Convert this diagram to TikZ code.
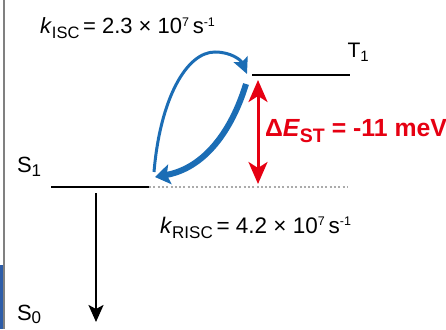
\documentclass[tikz,border=0pt]{standalone}
\usepackage{fontspec}
\setmainfont{Liberation Sans}
\usetikzlibrary{arrows.meta}
\definecolor{rxred}{HTML}{E60012}
\definecolor{rxblue}{HTML}{1B6DB5}
\definecolor{rxgray}{HTML}{ABABAB}
\definecolor{edgeblue}{HTML}{2E5DA8}
\newcommand{\fs}[1]{\fontsize{#1}{#1}\selectfont}
\newcommand{\lowsub}[3]{\raisebox{-#1pt}{\fs{#2}#3}}
\newcommand{\upsup}[3]{\raisebox{#1pt}{\fs{#2}#3}}
\begin{document}
\begin{tikzpicture}[x=1pt,y=-1pt,
  lbl/.style={anchor=base west,inner sep=0pt,outer sep=0pt},
  level/.style={line width=1.8pt,black},
  gaplevel/.style={line width=2pt,rxgray,dash pattern=on 2pt off 2.3pt},
  decay/.style={line width=2.4pt,black,-{Stealth[length=17pt,width=15pt,inset=4pt]}},
  gaparrow/.style={line width=3pt,rxred,{Stealth[length=22pt,width=19pt,inset=6pt]}-{Stealth[length=22pt,width=19pt,inset=6pt]}},
  iscarrow/.style={line width=3pt,rxblue,-{Stealth[length=16pt,width=15pt,inset=3pt]}},
  riscarrow/.style={line width=6pt,rxblue,-{Stealth[length=15pt,width=20pt,inset=3pt]}}
]
\useasboundingbox (0,0) rectangle (446,329);
\fill[white] (0,0) rectangle (446,329);
% edge artefacts
\fill[edgeblue] (0,265) rectangle (4,329);
\draw[line width=1.4pt,gray] (4,0) -- (4,329);

% coordinates
\coordinate (s1a) at (51,187);
\coordinate (s1b) at (149,187);
\coordinate (s1c) at (348,187);
\coordinate (t1a) at (252,75);
\coordinate (t1b) at (350,75);
\coordinate (dtop) at (96,193);
\coordinate (dbot) at (96,322);
\coordinate (gtop) at (258,80);
\coordinate (gbot) at (258,184);
\coordinate (iscs) at (154,172);
\coordinate (iscm) at (215,52);
\coordinate (isce) at (247,74);
\coordinate (riscs) at (246,84);
\coordinate (risce) at (155,177);

% levels
\draw[level] (s1a) -- (s1b);
\draw[gaplevel] (s1b) -- (s1c);
\draw[level] (t1a) -- (t1b);

% arrows
\draw[decay] (dtop) -- (dbot);
\draw[gaparrow] (gtop) -- (gbot);
\draw[iscarrow] (iscs) .. controls (160,100) and (186,52) .. (iscm) .. controls (231,52) and (241,60) .. (isce);
\draw[riscarrow] (riscs) .. controls (232,130) and (205,168) .. (risce);

% labels
\node[lbl] (s1lab) at (17,172) {\fs{22}S\lowsub{4}{17}{1}};
\node[lbl] (s0lab) at (17,320) {\fs{22}S\lowsub{3}{17}{0}};
\node[lbl] (t1lab) at (347.5,57) {\fs{21}T\lowsub{4}{15}{1}};
\node[lbl] (kisc) at (40,34) {\fs{22}\textit{k}\lowsub{5}{16.5}{ISC}\,= 2.3 × 10\upsup{7.5}{12.5}{7}\,s\upsup{7.5}{12.5}{-1}};
\node[lbl] (krisc) at (160,233) {\fs{22.5}\textit{k}\lowsub{5}{17}{RISC}\,= 4.2 × 10\upsup{7.5}{12.5}{7}\,s\upsup{7.5}{12.5}{-1}};
\node[lbl,text=rxred] (dest) at (265,136) {\fs{24.8}\bfseries Δ\textit{E}\lowsub{6}{19.5}{ST} = -11 meV};
\end{tikzpicture}
\end{document}
